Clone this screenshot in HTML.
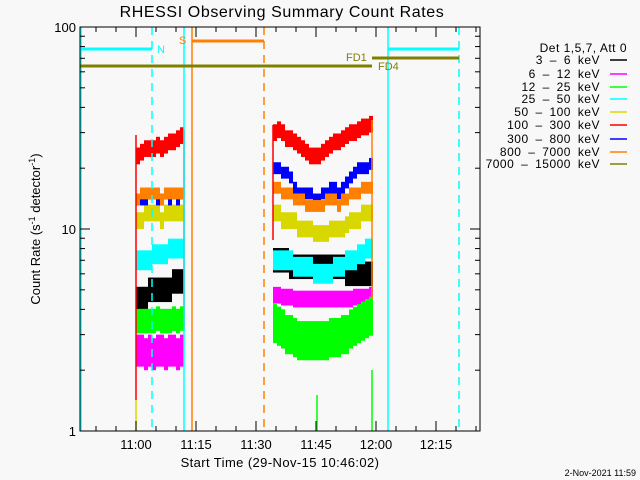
<!DOCTYPE html>
<html><head><meta charset="utf-8"><style>
body{margin:0;background:#f8f8f8;}
svg{display:block;font-family:"Liberation Sans",sans-serif;}
</style></head><body>
<svg id="c" width="640" height="480" viewBox="0 0 640 480">
<rect width="640" height="480" fill="#f8f8f8"/>
<text x="282" y="17" font-size="16" letter-spacing="0.6" text-anchor="middle">RHESSI Observing Summary Count Rates</text>
<text transform="translate(40,229) rotate(-90)" font-size="13" text-anchor="middle">Count Rate (s<tspan font-size="9" dy="-5">-1</tspan><tspan dy="5"> detector</tspan><tspan font-size="9" dy="-5">-1</tspan><tspan dy="5">)</tspan></text>
<text x="280" y="467" font-size="13" letter-spacing="0.4" text-anchor="middle">Start Time (29-Nov-15 10:46:02)</text>
<text x="636" y="476" font-size="9" text-anchor="end">2-Nov-2021 11:59</text>
<g id="plot"></g>
<g id="legend"></g>
</svg>
<script>
const channels=["3 - 6 keV","6 - 12 keV","12 - 25 keV","25 - 50 keV","50 - 100 keV","100 - 300 keV","300 - 800 keV","800 - 7000 keV","7000 - 15000 keV"];
const colors=["#000000","#ff00ff","#00ff00","#00ffff","#d8d800","#ff0000","#0000ff","#ff8000","#808000"];
const xTickLabels=["11:00","11:15","11:30","11:45","12:00","12:15"];
const xTickMinutes=[14,29,44,59,74,89];
const yTickValues=[1,10,100];
const seg1Start=14, seg2Start=48.25;
const black1=[4.5,4.5,4.5,5,5,5,5,5,5,5.5,5.5,5.5];
const black2=[7,7,7,7,6.5,6.5,6.5,6.5,6.5,6.5,6.5,6.5,6.5,6.5,6.5,6.5,6.5,6.5,6,6,6,6,6,6,6];
const magenta1=[2.5,2.5,2.4,2.5,2.4,2.5,2.5,2.4,2.5,2.5,2.4,2.5];
const magenta2=[4.7,4.7,4.6,4.6,4.6,4.5,4.5,4.5,4.5,4.5,4.5,4.5,4.5,4.5,4.5,4.5,4.5,4.5,4.5,4.5,4.6,4.6,4.6,4.6,4.7];
const green1=[3.5,3.5,3.5,3.5,3.5,3.6,3.5,3.5,3.5,3.6,3.5,3.6];
const green2=[3.4,3.3,3.2,3,3,2.9,2.8,2.8,2.8,2.8,2.8,2.8,2.8,2.8,2.9,2.9,2.9,3,3,3.2,3.3,3.4,3.5,3.6,3.7];
const cyan1=[7,7,7,7,7.5,7.5,7.5,7.5,8,8,8,8];
const cyan2=[7,7,7,7,7,6.5,6.5,6.5,6.5,6.5,6,6,6,6,6,6.5,6.5,6.5,7,7,7,7.5,7.5,8,8];
const yellow1=[11,11,12,12,12,12,11,12,12,12,12,12];
const yellow2=[12,12,11,11,11,11,10,10,10,10,9.5,9.5,9.5,9.5,10,10,10,10,10.5,11,11,11,12,12,12];
const red1=[23,24,25,25,25,26,25,26,27,27,28,29];
const red2=[30,31,30,28,28,27,26,25,24,23,23,23,24,25,26,27,27,28,29,30,30,31,32,32,33];
const blue1=[14,14,14,15,15,14,14,15,14,15,14,15];
const blue2=[20,20,19,19,18,16,15,15,15,15,14,14,15,15,16,16,15,16,17,18,19,20,20,20,21];
const orange1=[14,15,15,15,15,15,14,15,15,15,15,15];
const orange2=[16,16,15,15,15,14,14,14,13,13,13,13,13,14,14,14,13,14,14,15,15,15,16,16,16];

const NS="http://www.w3.org/2000/svg";
const X0=80,X1=480,Y0=27,Y1=431;
const xs=m=>X0+m*4;
const ys=v=>Y1-Math.log10(v)*202;
const plot=document.getElementById('plot');
function el(t,a,p){const e=document.createElementNS(NS,t);for(const k in a)e.setAttribute(k,a[k]);(p||plot).appendChild(e);return e;}

const series=[[black1,black2,0,1.15,1.15],[magenta1,magenta2,1,1.2,1.1],[green1,green2,2,1.15,1.25],[cyan1,cyan2,3,1.12,1.12],[yellow1,yellow2,4,1.1,1.1],[red1,red2,5,1.1,1.1],[blue1,blue2,6,1.07,1.07],[orange1,orange2,7,1.07,1.07]];
series.forEach(s=>{
  const g=el('g',{});
  
  
  [[s[0],seg1Start,s[3]],[s[1],seg2Start,s[4]]].forEach(([arr,st,f])=>{
    arr.forEach((v,i)=>{
      const r=el('rect',{x:xs(st+i),width:4,y:ys(v*f),height:ys(v/f)-ys(v*f),fill:colors[s[2]]},g);
      
      
    });
  });
});

function vl(x,y0,y1,c,dash,name){const l=el('line',{x1:x,x2:x,y1:y0,y2:y1,stroke:c,'stroke-width':1.5});if(dash)l.setAttribute('stroke-dasharray','8,6');}
vl(136,135,400,'#ff0000',false,'red-edge-1');
vl(184,130,330,'#ff0000',false,'red-edge-1b');
vl(273,125,240,'#ff0000',false,'red-edge-2');
vl(372,120,300,'#ff8000',false,'orange-edge-2');
vl(81,Y0,Y1,'#00ffff',false,'night-start');
vl(152,Y0,Y1,'#00ffff',true,'night-end');
vl(184,Y0,Y1,'#00ffff',false,'night-start-2');
vl(192,Y0,Y1,'#ff8000',false,'saa-start');
vl(264,Y0,Y1,'#ff8000',true,'saa-end');
vl(388,Y0,Y1,'#00ffff',false,'night-start-3');
vl(459,Y0,Y1,'#00ffff',true,'night-end-3');
vl(136,400,Y1,'#d8d800',false,'yellow-edge');
vl(317,395,Y1,'#00ff00',false,'green-drop');
vl(372,370,Y1,'#00ff00',false,'green-edge');
function hb(x0,x1,y,c,name){const l=el('line',{x1:x0,x2:x1,y1:y,y2:y,stroke:c,'stroke-width':3});}
hb(80,152,49,'#00ffff','night-bar');
hb(388,459,49,'#00ffff','night-bar-2');
hb(192,264,41,'#ff8000','saa-bar');
hb(372,459,58,'#808000','fd1-bar');
hb(80,372,66,'#808000','fd4-bar');
function lab(x,y,t,c,name){const e=el('text',{x:x,y:y,fill:c,'font-size':11});e.textContent=t;}
lab(157,53,'N','#00ffff','n-label');lab(179,44,'S','#ff8000','s-label');lab(346,61,'FD1','#808000','fd1-label');lab(378,70,'FD4','#808000','fd4-label');

const fr=el('rect',{x:X0,y:Y0,width:X1-X0,height:Y1-Y0,fill:'none',stroke:'#000','stroke-width':1});

for(let m=4;m<=100;m+=5){const major=xTickMinutes.includes(m);const L=major?10:5;const x=xs(m);
 el('line',{x1:x,x2:x,y1:Y1,y2:Y1-L,stroke:'#000'});el('line',{x1:x,x2:x,y1:Y0,y2:Y0+L,stroke:'#000'});}
xTickLabels.forEach((t,i)=>{const e=el('text',{x:xs(xTickMinutes[i]),y:449,'font-size':13,'text-anchor':'middle'});e.textContent=t;
 });
for(let d=0;d<2;d++)for(let k=1;k<=9;k++){const v=k*Math.pow(10,d);const y=ys(v);const L=k==1?10:5;
 el('line',{x1:X0,x2:X0+L,y1:y,y2:y,stroke:'#000'});el('line',{x1:X1,x2:X1-L,y1:y,y2:y,stroke:'#000'});}
yTickValues.forEach(v=>{const e=el('text',{x:76,y:ys(v)+5,'font-size':13,'text-anchor':'end'});e.textContent=String(v);
 });

const lg=document.getElementById('legend');
const h=el('text',{x:627,y:52,'font-size':12,'letter-spacing':0.5,'text-anchor':'end'},lg);h.textContent='Det 1,5,7, Att 0';

const rowsY=[60,74,87,99,112,125,139,152,164];
channels.forEach((c,i)=>{const g=el('g',{},lg);
 
 const t=el('text',{x:600,y:rowsY[i]+4,'font-size':12,'letter-spacing':0.5,'text-anchor':'end','word-spacing':3},g);t.textContent=c.replace(' - ',' – ');
 el('line',{x1:610,x2:627,y1:rowsY[i],y2:rowsY[i],stroke:colors[i],'stroke-width':1.5},g);});
</script>
</body></html>
